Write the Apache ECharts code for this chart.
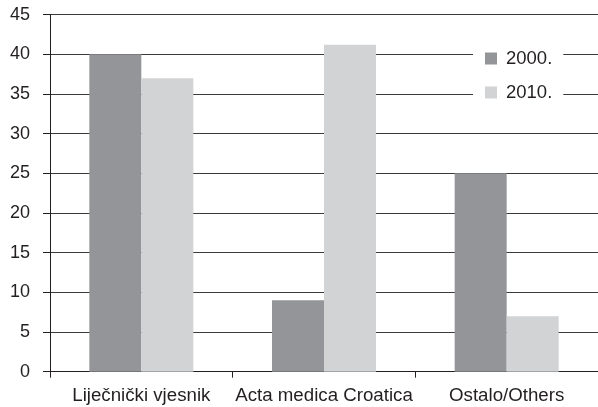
<!DOCTYPE html>
<html>
<head>
<meta charset="utf-8">
<script src="https://cdn.jsdelivr.net/npm/echarts@6/dist/echarts.min.js"></script>
<style>
html,body{margin:0;padding:0;background:#fff;}
#chart{width:598px;height:407px;}
</style>
</head>
<body>
<div id="chart"></div>
<script>
var categories = ['Liječnički vjesnik', 'Acta medica Croatica', 'Ostalo/Others'];
var seriesNames = ['2000.', '2010.'];
var values2000 = [40, 9, 25];
var values2010 = [37, 41.2, 7];
var yTicks = [0, 5, 10, 15, 20, 25, 30, 35, 40, 45];

var chart = echarts.init(document.getElementById('chart'), null, {renderer: 'canvas'});
var font = 'Liberation Sans, Arial, sans-serif';
chart.setOption({
  animation: false,
  backgroundColor: '#ffffff',
  grid: {left: 50, top: 14.7, width: 552, bottom: 35.3, containLabel: false},
  legend: {
    orient: 'vertical',
    left: 473, top: 39,
    padding: [10, 11, 10, 12],
    backgroundColor: '#ffffff',
    itemWidth: 12, itemHeight: 12, itemGap: 15,
    icon: 'rect',
    textStyle: {fontFamily: font, fontSize: 18.5, color: '#231f20', padding: [0, 0, 0, 4]},
    data: seriesNames
  },
  xAxis: {
    type: 'category',
    data: categories,
    axisLine: {lineStyle: {color: '#231f20', width: 1}},
    axisTick: {show: true, length: 6, lineStyle: {color: '#231f20'}},
    axisLabel: {fontFamily: font, fontSize: 18.7, color: '#231f20', margin: 15, interval: 0}
  },
  yAxis: {
    type: 'value',
    min: yTicks[0], max: yTicks[yTicks.length - 1], interval: 5,
    axisLine: {show: true, lineStyle: {color: '#231f20', width: 1}},
    axisTick: {show: true, length: 7, lineStyle: {color: '#231f20'}},
    axisLabel: {fontFamily: font, fontSize: 18, color: '#231f20', margin: 20},
    splitLine: {show: true, lineStyle: {color: '#3a3a3a', width: 1}}
  },
  series: [
    {name: seriesNames[0], type: 'bar', data: values2000, barWidth: 52, barGap: '0%',
     itemStyle: {color: '#939598'}},
    {name: seriesNames[1], type: 'bar', data: values2010, barWidth: 52, barGap: '0%',
     itemStyle: {color: '#d1d3d4'}}
  ]
});
</script>
</body>
</html>
